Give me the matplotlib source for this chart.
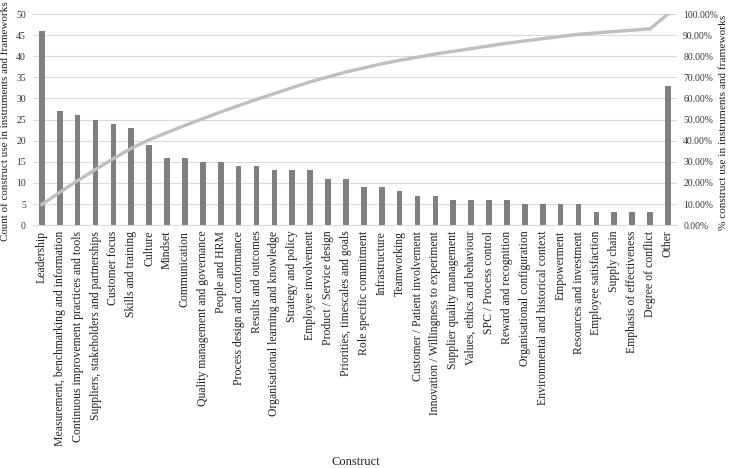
import matplotlib
matplotlib.use("Agg")
import matplotlib.pyplot as plt
import numpy as np
from matplotlib.ticker import FuncFormatter

categories = [
    "Leadership", "Measurement, benchmarking and information",
    "Continuous improvement practices and tools", "Suppliers, stakeholders and partnerships",
    "Customer focus", "Skills and training", "Culture", "Mindset", "Communication",
    "Quality management and governance", "People and HRM", "Process design and conformance",
    "Results and outcomes", "Organisational learning and knowledge", "Strategy and policy",
    "Employee involvement", "Product / Service design", "Priorities, timescales and goals",
    "Role specific commitment", "Infrastructure", "Teamworking",
    "Customer / Patient involvement", "Innovation / Willingness to experiment",
    "Supplier quality management", "Values, ethics and behaviour", "SPC / Process control",
    "Reward and recognition", "Organisational configuration",
    "Environmental and historical context", "Empowerment", "Resources and investment",
    "Employee satisfaction", "Supply chain", "Emphasis of effectiveness",
    "Degree of conflict", "Other",
]
counts = [46, 27, 26, 25, 24, 23, 19, 16, 16, 15, 15, 14, 14, 13, 13, 13, 11, 11,
          9, 9, 8, 7, 7, 6, 6, 6, 6, 5, 5, 5, 5, 3, 3, 3, 3, 33]

counts_arr = np.array(counts, dtype=float)
cum_pct = np.cumsum(counts_arr) / counts_arr.sum() * 100

plt.rcParams['font.family'] = ['Liberation Serif', 'DejaVu Serif']

W, H = 731, 468
fig = plt.figure(figsize=(W / 100, H / 100), dpi=100)
ax = fig.add_axes([0.045, 0.519, 0.881, 0.451])
x = np.arange(len(categories))
ax.bar(x, counts, width=0.32, color="#7f7f7f", zorder=2)
ax.set_xlim(-0.5, len(categories) - 0.5)
ax.set_ylim(0, 50)
ax.set_yticks(range(0, 51, 5))
ax.grid(axis='y', color="#d9d9d9", linewidth=0.8, zorder=0)
ax.set_axisbelow(True)
for s in ax.spines.values():
    s.set_visible(False)
ax.spines['bottom'].set_visible(True)
ax.spines['bottom'].set_color("#d9d9d9")
ax.set_xticks(x)
ax.set_xticklabels(categories, rotation=90, fontsize=8.5, color="#222222")
ax.tick_params(axis='x', length=0, pad=4)
ax.tick_params(axis='y', length=0, labelsize=7, colors="#333333", pad=5)

ax2 = ax.twinx()
ax2.plot(x, cum_pct, color="#bfbfbf", linewidth=2.4, zorder=3)
ax2.set_ylim(0, 100)
ax2.set_yticks(range(0, 101, 10))
ax2.yaxis.set_major_formatter(FuncFormatter(lambda v, p: f"{v:.2f}%"))
ax2.tick_params(axis='y', length=0, labelsize=6.9, colors="#333333", pad=4.5)
for s in ax2.spines.values():
    s.set_visible(False)

fig.text(6 / W, 1 - 121 / H, "Count of construct use in instruments and frameworks",
         rotation=90, ha='center', va='center', fontsize=7.9, color="#222222")
fig.text(723 / W, 1 - 122 / H, "% construct use in instruments and frameworks",
         rotation=90, ha='center', va='center', fontsize=8.1, color="#222222")
fig.text(356 / W, 1 - 462 / H, "Construct", ha='center', va='center',
         fontsize=9, color="#222222")

fig.savefig("out.png", dpi=100)
